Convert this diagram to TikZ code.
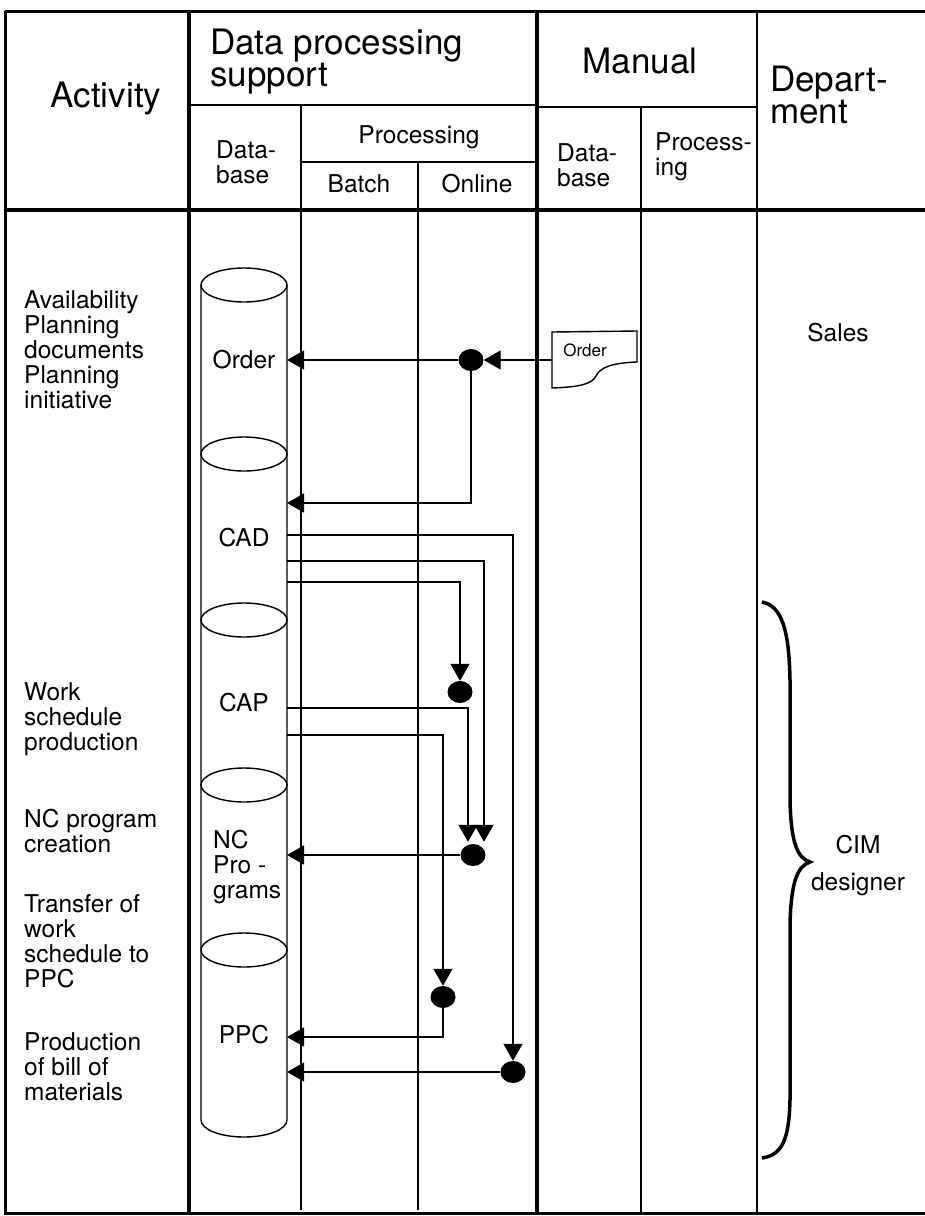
\documentclass[tikz,border=0pt]{standalone}
\usepackage{fontspec}
\setmainfont{TeX Gyre Heros}
\usetikzlibrary{arrows.meta, calc, positioning, shapes.geometric}
\tikzset{
	tri/.tip={Triangle[width=19pt, length=17pt]},
	heavy/.style={line width=4pt},
	light/.style={line width=1.4pt},
	big/.style={font=\fontsize{35}{32}\selectfont, inner sep=0pt, align=left},
	txt/.style={font=\fontsize{24.5}{25}\selectfont, inner sep=0pt, align=left},
	acttxt/.style={txt, anchor=north west},
	dot/.style={ellipse, fill=black, minimum width=25pt, minimum height=22pt, inner sep=0pt},
	flow/.style={light, -tri},
}
\begin{document}
\begin{tikzpicture}[x=1pt, y=-1pt]
	\useasboundingbox (0,0) rectangle (925,1216);
	% Frame and columns
	\draw[line width=3pt] (5,11) -- (925,11);
	\draw[line width=3pt] (5,11) -- (5,1213) -- (925,1213);
	\draw[heavy] (5,210) -- (925,210);
	\draw[heavy] (189,11) -- (189,1213);
	\draw[heavy] (537,11) -- (537,1213);
	\draw[light] (189,105) -- (537,105);
	\draw[light] (537,107) -- (757,107);
	\draw[light] (301,162) -- (537,162);
	\draw[light] (301,105) -- (301,1210);
	\draw[light] (418,162) -- (418,1210);
	\draw[light] (641,107) -- (641,1213);
	\draw[light] (757,11) -- (757,1213);

	% Header
	\node[big, anchor=base] (activity) at (106,107) {Activity};
	\node[big, anchor=north west] (dps) at (210,29) {Data processing\\support};
	\node[big, anchor=base] (manual) at (640,73) {Manual};
	\node[big, anchor=north west] (dept) at (770,66) {Depart-\\ment};
	\node[txt, anchor=base] (proc) at (419,143) {Processing};
	\node[txt, anchor=north west] (dpdb) at (216,140) {Data-\\base};
	\node[txt, anchor=base] (batch) at (359,192) {Batch};
	\node[txt, anchor=base] (online) at (477,192) {Online};
	\node[txt, anchor=north west] (mandb) at (557,143) {Data-\\base};
	\node[txt, anchor=north west] (manproc) at (655,132) {Process-\\ing};

	% Activities
	\node[acttxt] (act1) at (24,290) {Availability\\Planning\\documents\\Planning\\initiative};
	\node[acttxt] (act2) at (24,682) {Work\\schedule\\production};
	\node[acttxt] (act3) at (24,809) {NC program\\creation};
	\node[acttxt] (act4) at (24,894) {Transfer of\\work\\schedule to\\PPC};
	\node[acttxt] (act5) at (24,1032) {Production\\of bill of\\materials};

	% Data base cylinders
	\foreach \y in {285,454,620,785,950}
		\draw[light] (244,\y) ellipse [x radius=43, y radius=17];
	\draw[light] (201,285) -- (201,1120) arc[start angle=180, end angle=0, x radius=43, y radius=17] -- (287,285);
	\node[txt, anchor=base] (ord) at (244,368) {Order};
	\node[txt, anchor=base] (cad) at (244,546) {CAD};
	\node[txt, anchor=base] (cap) at (244,711) {CAP};
	\node[txt, anchor=north west] (ncp) at (213,830) {NC\\Pro -\\grams};
	\node[txt, anchor=base] (ppc) at (244,1043) {PPC};
	\coordinate (ordin) at (287,360);
	\coordinate (cadin) at (287,503);
	\coordinate (cadA) at (287,535);
	\coordinate (cadB) at (287,561);
	\coordinate (cadC) at (287,582);
	\coordinate (capA) at (287,708);
	\coordinate (capB) at (287,735);
	\coordinate (ncin) at (287,855);
	\coordinate (ppcinA) at (287,1037);
	\coordinate (ppcinB) at (287,1072);

	% Manual order form
	\node[font=\fontsize{17}{17}\selectfont, inner sep=0pt] (doc) at (585,350) {Order};
	\draw[light] (552,332) -- (637,331) -- (637,362) .. controls (610,363) and (600,368) .. (596,376) .. controls (592,384) and (580,387) .. (552,388) -- cycle;
	\coordinate (docin) at (552,360);

	% Processing points
	\node[dot] (d1) at (471,360) {};
	\node[dot] (d2) at (460,692) {};
	\node[dot] (d3) at (473,855) {};
	\node[dot] (d4) at (443,997) {};
	\node[dot] (d5) at (513,1072) {};

	\draw[flow] (docin) -- (d1);
	\draw[flow] (d1) -- (ordin);
	\draw[flow] (d1) |- (cadin);
	\draw[flow] (cadA) -| (d5);
	\draw[flow] (cadB) -| ($(d3.north)+(11,-2)$);
	\draw[flow] (cadC) -| (d2);
	\draw[flow] (capA) -| ($(d3.north)+(-5,-2)$);
	\draw[flow] (capB) -| (d4);
	\draw[flow] (d3) -- (ncin);
	\draw[flow] (d4) |- (ppcinA);
	\draw[flow] (d5) -- (ppcinB);

	% Departments
	\node[txt, anchor=base] (sales) at (838,341) {Sales};
	\draw[line width=3.5pt] (762,602) .. controls (782,606) and (789,630) .. (790,680) -- (790,800) .. controls (791,845) and (798,858) .. (810,862) .. controls (798,866) and (791,880) .. (790,925) -- (790,1100) .. controls (789,1140) and (782,1155) .. (762,1158);
	\node[txt, align=center, font=\fontsize{24.5}{37}\selectfont] (cim) at (858,866) {CIM\\designer};
\end{tikzpicture}
\end{document}
